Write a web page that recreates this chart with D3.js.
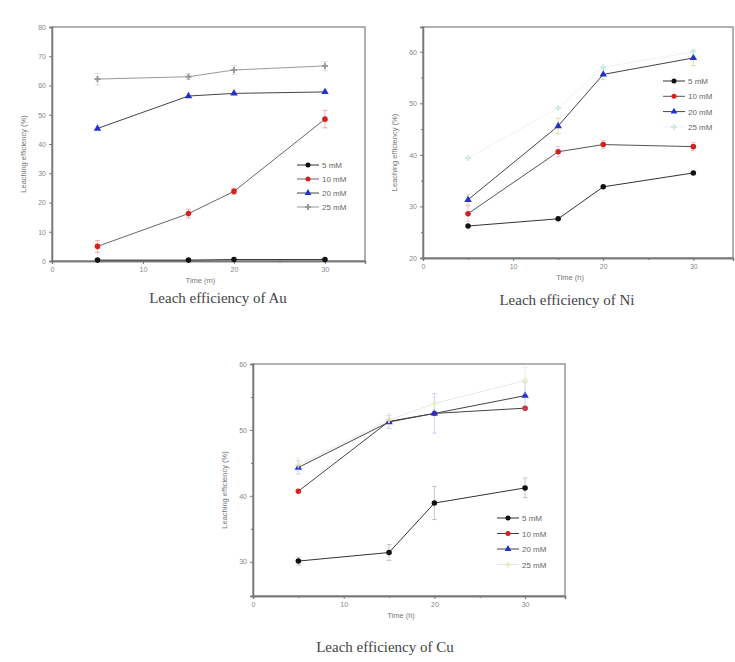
<!DOCTYPE html>
<html><head><meta charset="utf-8">
<script src="https://cdn.jsdelivr.net/npm/d3@7"></script>
<style>
html,body{margin:0;padding:0;background:#fff;}
svg{display:block;}
</style></head>
<body>
<svg id="chart" width="735" height="662"></svg>
<script>
// ---- data ----
const times = [5, 15, 20, 30];
const seriesNames = ["5 mM", "10 mM", "20 mM", "25 mM"];
const xTicks = [0, 10, 20, 30];
const xMinorTicks = [5, 15, 25];

// Au
const au5  = [0.3, 0.3, 0.5, 0.5];
const au10 = [5.0, 16.2, 23.8, 48.5];
const au20 = [45.3, 56.4, 57.3, 57.8];
const au25 = [62.2, 63.0, 65.3, 66.7];
const auErr25 = [2, 1, 1.5, 1.5];
const auErr10 = [2, 1.5, 1, 3];
const auYTicks = [0, 10, 20, 30, 40, 50, 60, 70, 80];
const auYMinor = [];

// Ni
const ni5  = [26.2, 27.6, 33.8, 36.5];
const ni10 = [28.6, 40.6, 42.0, 41.6];
const ni20 = [31.3, 45.6, 55.6, 58.8];
const ni25 = [39.4, 49.1, 57.0, 60.0];
const niErr20 = [1, 1.5, 1, 1.5];
const niErr10 = [1.5, 1, 0.8, 0.8];
const niYTicks = [20, 30, 40, 50, 60];
const niYMinor = [25, 35, 45, 55];

// Cu
const cu5  = [30.1, 31.4, 38.9, 41.2];
const cu10 = [40.7, 51.3, 52.5, 53.3];
const cu20 = [44.3, 51.2, 52.5, 55.2];
const cu25 = [44.7, 51.5, 54.0, 57.5];
const cuErr5 = [0.6, 1.2, 2.5, 1.5];
const cuErr20 = [1, 1, 3, 2];
const cuErr25 = [1, 1, 1, 2];
const cuYTicks = [30, 40, 50, 60];
const cuYMinor = [35, 45, 55];

const colors5 = "#111";
const colors10 = "#d42020";
const colors20 = "#2233cc";

function drawPanel(svg, cfg) {
  const g = svg.append("g");
  const x = d3.scaleLinear().domain([0, 34.4]).range([cfg.left, cfg.right]);
  const y = d3.scaleLinear().domain(cfg.yDomain).range([cfg.bottom, cfg.top]);

  // frame
  g.append("rect").attr("x", cfg.left).attr("y", cfg.top)
    .attr("width", cfg.right - cfg.left).attr("height", cfg.bottom - cfg.top)
    .attr("fill", "none").attr("stroke", "#888").attr("stroke-width", 1.3);

  const xAxis = d3.axisBottom(x).tickValues(xTicks).tickSize(3).tickFormat(d3.format("d"));
  const ax = g.append("g").attr("transform", `translate(0,${cfg.bottom})`).call(xAxis);
  const yAxis = d3.axisLeft(y).tickValues(cfg.yTicks).tickSize(3).tickFormat(d3.format("d"));
  const ay = g.append("g").attr("transform", `translate(${cfg.left},0)`).call(yAxis);
  const axm = g.append("g").attr("transform", `translate(0,${cfg.bottom})`)
    .call(d3.axisBottom(x).tickValues(xMinorTicks).tickSize(2).tickFormat(""));
  const aym = g.append("g").attr("transform", `translate(${cfg.left},0)`)
    .call(d3.axisLeft(y).tickValues(cfg.yMinor).tickSize(2).tickFormat(""));
  [ax, ay, axm, aym].forEach(a => {
    a.select(".domain").attr("stroke", "#777").attr("stroke-width", 1.3);
    a.selectAll(".tick line").attr("stroke", "#777");
    a.selectAll(".tick text").attr("fill", "#888").attr("font-family", "Arial, sans-serif").attr("font-size", 7);
  });

  // axis titles
  g.append("text").attr("x", (x(0) + x(30)) / 2 + 12).attr("y", cfg.bottom + 22)
    .attr("text-anchor", "middle").attr("font-family", "Arial, sans-serif").attr("font-size", 7.5)
    .attr("fill", "#777").text(cfg.xLabel);
  g.append("text").attr("transform", `translate(${cfg.left - 26},${(cfg.top + cfg.bottom) / 2 + 10}) rotate(-90)`)
    .attr("text-anchor", "middle").attr("font-family", "Arial, sans-serif").attr("font-size", 7.5)
    .attr("fill", "#777").text("Leaching efficiency (%)");

  // caption
  g.append("text").attr("x", cfg.capX).attr("y", cfg.capY).attr("text-anchor", "middle")
    .attr("font-family", "'Liberation Serif', 'Times New Roman', serif").attr("font-size", 15)
    .attr("fill", "#444").text(cfg.caption);

  const line = d3.line().x((d, i) => x(times[i])).y(d => y(d));

  cfg.series.forEach(s => {
    const op = s.opacity == null ? 1 : s.opacity;
    if (s.err) {
      s.values.forEach((v, i) => {
        g.append("line").attr("x1", x(times[i])).attr("x2", x(times[i]))
          .attr("y1", y(v - s.err[i])).attr("y2", y(v + s.err[i]))
          .attr("stroke", s.errColor || s.color).attr("stroke-opacity", 0.4).attr("stroke-width", 1);
        [-1, 1].forEach(sg => g.append("line").attr("x1", x(times[i]) - 2.5).attr("x2", x(times[i]) + 2.5)
          .attr("y1", y(v + sg * s.err[i])).attr("y2", y(v + sg * s.err[i]))
          .attr("stroke", s.errColor || s.color).attr("stroke-opacity", 0.4).attr("stroke-width", 1));
      });
    }
    g.append("path").datum(s.values).attr("d", line).attr("fill", "none")
      .attr("stroke", s.lineColor).attr("stroke-width", 1).attr("opacity", op);
    g.selectAll(null).data(s.values).enter().append("path")
      .attr("transform", (d, i) => `translate(${x(times[i])},${y(d)})`)
      .attr("d", d3.symbol().type(s.symbol).size(s.size || 24)())
      .attr("fill", s.color).attr("opacity", op);
  });

  // legend
  cfg.series.forEach((s, i) => {
    const ly = cfg.legY + i * cfg.legStep;
    const op = s.opacity == null ? 1 : s.opacity;
    g.append("line").attr("x1", cfg.legX).attr("x2", cfg.legX + 22).attr("y1", ly).attr("y2", ly)
      .attr("stroke", s.lineColor).attr("stroke-width", 1).attr("opacity", op);
    g.append("path").attr("transform", `translate(${cfg.legX + 11},${ly})`)
      .attr("d", d3.symbol().type(s.symbol).size(20)()).attr("fill", s.color).attr("opacity", op);
    g.append("text").attr("x", cfg.legX + 25).attr("y", ly + 3).attr("font-family", "Arial, sans-serif")
      .attr("font-size", 8).attr("fill", "#666").text(seriesNames[i]);
  });
}

const svg = d3.select("#chart");

drawPanel(svg, {
  left: 52, right: 365, top: 27, bottom: 261, yDomain: [0, 80], yTicks: auYTicks, yMinor: auYMinor,
  xLabel: "Time (m)", caption: "Leach efficiency of Au", capX: 218, capY: 303,
  legX: 297, legY: 165, legStep: 14,
  series: [
    { values: au5, color: colors5, lineColor: "#333", symbol: d3.symbolCircle },
    { values: au10, color: colors10, lineColor: "#666", symbol: d3.symbolCircle, err: auErr10, errColor: "#e04040" },
    { values: au20, color: colors20, lineColor: "#444", symbol: d3.symbolTriangle },
    { values: au25, color: "#999", lineColor: "#999", symbol: d3.symbolCross, size: 20, err: auErr25, errColor: "#aaa" }
  ]
});

drawPanel(svg, {
  left: 423, right: 733, top: 27, bottom: 258, yDomain: [20, 64.8], yTicks: niYTicks, yMinor: niYMinor,
  xLabel: "Time (h)", caption: "Leach efficiency of Ni", capX: 567, capY: 305,
  legX: 663, legY: 81, legStep: 15.3,
  series: [
    { values: ni5, color: colors5, lineColor: "#333", symbol: d3.symbolCircle },
    { values: ni10, color: colors10, lineColor: "#555", symbol: d3.symbolCircle, err: niErr10, errColor: "#e08080" },
    { values: ni20, color: colors20, lineColor: "#444", symbol: d3.symbolTriangle, err: niErr20, errColor: "#c0b040" },
    { values: ni25, color: "#b8e4e0", lineColor: "#e6eeee", symbol: d3.symbolCross, size: 20, opacity: 0.7 }
  ]
});

drawPanel(svg, {
  left: 253, right: 565, top: 364, bottom: 596, yDomain: [24.8, 60], yTicks: cuYTicks, yMinor: cuYMinor,
  xLabel: "Time (h)", caption: "Leach efficiency of Cu", capX: 385, capY: 652,
  legX: 497, legY: 518, legStep: 15.5,
  series: [
    { values: cu5, color: colors5, lineColor: "#333", symbol: d3.symbolCircle, err: cuErr5, errColor: "#777" },
    { values: cu10, color: colors10, lineColor: "#444", symbol: d3.symbolCircle },
    { values: cu20, color: colors20, lineColor: "#444", symbol: d3.symbolTriangle, err: cuErr20, errColor: "#9999ee" },
    { values: cu25, color: "#e8e8b8", lineColor: "#e2e2e2", symbol: d3.symbolCross, size: 20, err: cuErr25, errColor: "#cde", opacity: 0.8 }
  ]
});
</script>
</body></html>
